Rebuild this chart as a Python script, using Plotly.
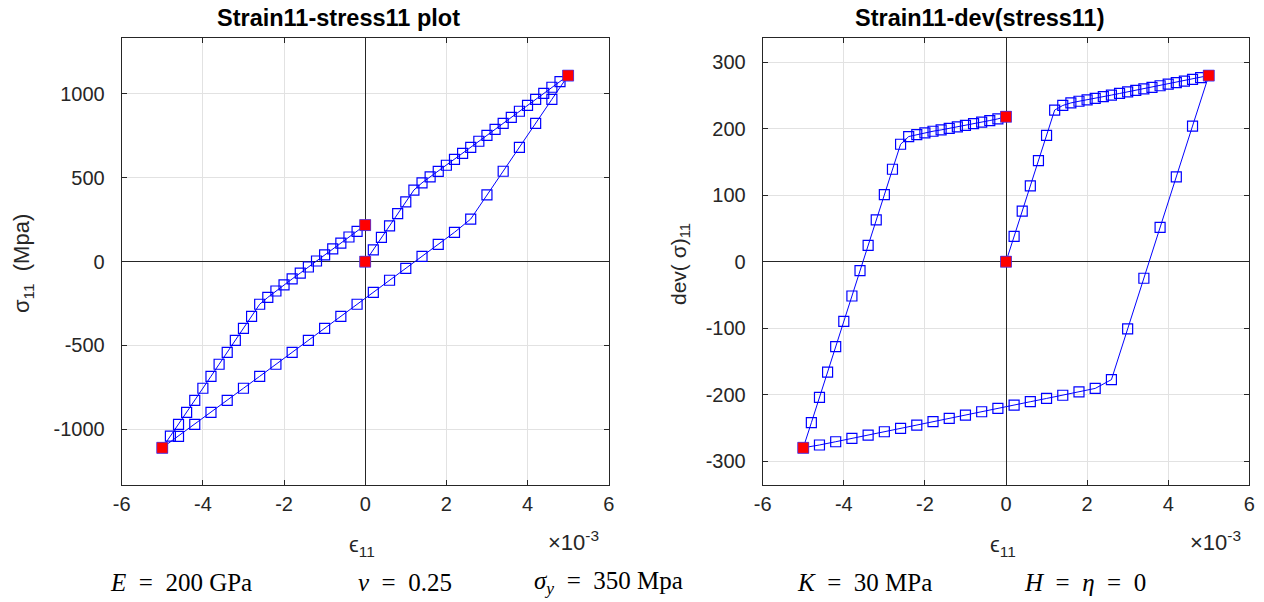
import plotly.graph_objects as go

# strain path, in units of 1e-3
strain_load = [0.0, 0.2, 0.4, 0.6, 0.8, 1.0, 1.2, 1.4, 1.6, 1.8, 2.0, 2.2, 2.4,
               2.6, 2.8, 3.0, 3.2, 3.4, 3.6, 3.8, 4.0, 4.2, 4.4, 4.6, 4.8, 5.0]
strain_unload = [4.6, 4.2, 3.8, 3.4, 3.0, 2.6, 2.2, 1.8, 1.4, 1.0, 0.6, 0.2, -0.2,
                 -0.6, -1.0, -1.4, -1.8, -2.2, -2.6, -3.0, -3.4, -3.8, -4.2, -4.6, -5.0]
strain_reload = [-4.8, -4.6, -4.4, -4.2, -4.0, -3.8, -3.6, -3.4, -3.2, -3.0, -2.8, -2.6,
                 -2.4, -2.2, -2.0, -1.8, -1.6, -1.4, -1.2, -1.0, -0.8, -0.6, -0.4, -0.2, 0.0]

# sigma_11 (MPa)
stress_load = [0, 70, 145, 213, 286, 356, 427, 470, 505, 538, 575, 610, 646,
               682, 718, 753, 789, 825, 861, 897, 932, 968, 1004, 1040, 1074, 1110]
stress_unload = [968, 825, 682, 539, 398, 254, 175, 103, 32, -40, -111, -183, -254,
                 -326, -398, -469, -541, -612, -684, -755, -827, -899, -970, -1042, -1110]
stress_reload = [-1040, -970, -899, -827, -755, -684, -612, -541, -469, -398, -326, -254,
                 -213, -175, -139, -103, -68, -32, 4, 40, 76, 111, 147, 180, 218]

# dev(sigma)_11 (MPa)
dev_load = [0, 38, 76, 114, 152, 190, 228, 235, 238.8, 241.3, 243.4, 245.6, 248.2,
            250.6, 253, 255.4, 257.6, 260, 262.2, 264.6, 267, 269.4, 271.7, 274.2, 276.8, 280]
dev_unload = [204, 127.4, 51.5, -25, -101, -177.5, -190.7, -196, -201, -205.8, -210.7,
              -215.8, -220.8, -225.8, -230.8, -235.8, -240.8, -245.9, -250.9, -255.9,
              -260.9, -265.9, -270.9, -275.8, -280]
dev_reload = [-242.3, -204.2, -166.1, -127.9, -89.8, -51.7, -13.5, 24.6, 62.7, 100.9, 139, 176.6,
              188.2, 191.2, 193.7, 196.2, 198.2, 200.4, 202.7, 205, 207.5, 209.8, 212.3, 214.8, 218.3]

# highlighted states
key_strain = [0.0, 5.0, -5.0, 0.0]
key_stress = [0, 1110, -1110, 218]
key_dev = [0, 280, -280, 218]

x_ticks = [-6, -4, -2, 0, 2, 4, 6]
x_tick_text = ["-6", "-4", "-2", "0", "2", "4", "6"]
stress_ticks = [-1000, -500, 0, 500, 1000]
stress_tick_text = ["-1000", "-500", "0", "500", "1000"]
dev_ticks = [-300, -200, -100, 0, 100, 200, 300]
dev_tick_text = ["-300", "-200", "-100", "0", "100", "200", "300"]

strain_all = strain_load + strain_unload + strain_reload
stress_all = stress_load + stress_unload + stress_reload
dev_all = dev_load + dev_unload + dev_reload

W, H = 1264, 602
BLUE = "#0000ff"
AX = "#262626"
FONT = "Liberation Sans, Arial, Helvetica, sans-serif"
SERIF = "Liberation Serif, DejaVu Serif, serif"

fig = go.Figure()
for xa, ya, ys in [("x", "y", stress_all), ("x2", "y2", dev_all)]:
    fig.add_trace(go.Scatter(
        x=strain_all, y=ys, xaxis=xa, yaxis=ya, mode="lines+markers",
        line=dict(color=BLUE, width=1),
        marker=dict(symbol="square-open", size=10, color=BLUE, line=dict(width=1.2, color=BLUE)),
        showlegend=False, hoverinfo="x+y"))
for ya, xa, ys in [("y", "x", key_stress), ("y2", "x2", key_dev)]:
    fig.add_trace(go.Scatter(x=key_strain, y=ys, xaxis=xa, yaxis=ya, mode="markers",
                             marker=dict(symbol="square", size=11, color="#ff0000",
                                         line=dict(width=0.6, color="#4040ff")),
                             showlegend=False))

def px(xp):
    return xp / W

def py(yp):
    return 1 - yp / H

common_axis = dict(showline=True, mirror="ticks", linecolor=AX, linewidth=1,
                   ticks="inside", ticklen=5, tickcolor=AX, tickwidth=1,
                   showgrid=True, gridcolor="#e2e2e2", gridwidth=1,
                   zeroline=True, zerolinecolor=AX, zerolinewidth=1.3,
                   automargin=False,
                   tickfont=dict(family=FONT, size=20, color=AX))

xdom1 = [px(121.7), px(608.7)]
xdom2 = [px(762.7), px(1249.3)]
ydom = [py(485), py(38.3)]

fig.update_layout(
    width=W, height=H, margin=dict(l=0, r=0, t=0, b=0, autoexpand=False),
    paper_bgcolor="white", plot_bgcolor="white",
    xaxis=dict(domain=xdom1, range=[-6, 6], tickvals=x_ticks, ticktext=x_tick_text,
               anchor="y", ticklabelstandoff=1, **common_axis),
    yaxis=dict(domain=ydom, range=[-1332, 1332], tickvals=stress_ticks,
               ticktext=stress_tick_text, anchor="x", ticklabelstandoff=12, **common_axis),
    xaxis2=dict(domain=xdom2, range=[-6, 6], tickvals=x_ticks, ticktext=x_tick_text,
                anchor="y2", ticklabelstandoff=1, **common_axis),
    yaxis2=dict(domain=ydom, range=[-336, 336], tickvals=dev_ticks,
                ticktext=dev_tick_text, anchor="x2", ticklabelstandoff=12, **common_axis),
)

ann = []
def add_text(text, x, y, size, family=FONT, xanchor="center", yanchor="middle", angle=0, color="#000000"):
    ann.append(dict(text=text, x=px(x), y=py(y), xref="paper", yref="paper",
                    xanchor=xanchor, yanchor=yanchor, showarrow=False, textangle=angle,
                    font=dict(family=family, size=size, color=color)))

add_text("<b>Strain11-stress11 plot</b>", 338, 18, 23.5)
add_text("<b>Strain11-dev(stress11)</b>", 980, 18, 23.5)
add_text("ϵ<sub>11</sub>", 362, 546, 22, color=AX)
add_text("ϵ<sub>11</sub>", 1003, 546, 22, color=AX)
add_text("×10<sup>-3</sup>", 546, 541, 22, xanchor="left", color=AX)
add_text("×10<sup>-3</sup>", 1188, 541, 22, xanchor="left", color=AX)
add_text("σ<sub>11</sub>  (Mpa)", 23, 264, 22, angle=-90, color=AX)
add_text("dev( σ)<sub>11</sub>", 680, 264, 21, angle=-90, color=AX)

EQ = "&nbsp;&nbsp;=&nbsp;&nbsp;"
add_text("<i>E</i>" + EQ + "200 GPa", 108, 582, 25, family=SERIF, xanchor="left")
add_text("<i>ν</i>" + EQ + "0.25", 356, 582, 25, family=SERIF, xanchor="left")
add_text("<i>σ<sub>y</sub></i>" + EQ + "350 Mpa", 532, 582, 25, family=SERIF, xanchor="left")
add_text("<i>K</i>" + EQ + "30 MPa", 795, 582, 25, family=SERIF, xanchor="left")
add_text("<i>H</i>" + EQ + "<i>η</i>" + EQ + "0", 1022, 582, 25, family=SERIF, xanchor="left")

fig.update_layout(annotations=ann)
fig.write_html("out.html", config={"displayModeBar": False},
               post_script="document.body.style.margin='0';document.body.style.overflow='hidden';")
